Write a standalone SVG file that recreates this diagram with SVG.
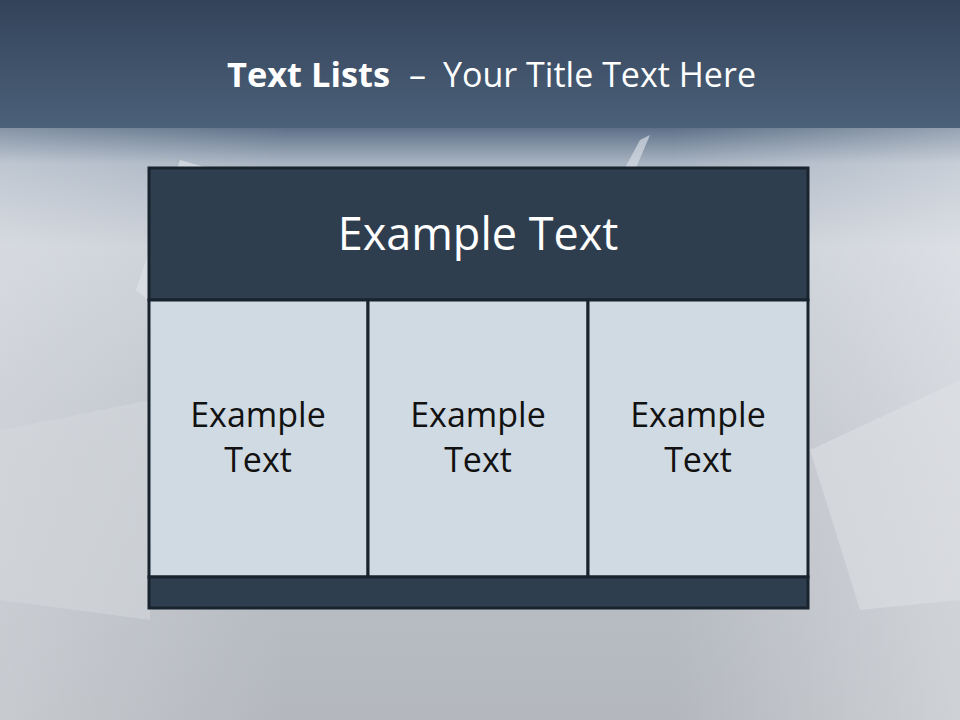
<svg xmlns="http://www.w3.org/2000/svg" width="960" height="720" viewBox="0 0 960 720">
<defs>
<linearGradient id="hdr" x1="0" y1="0" x2="0" y2="1">
<stop offset="0" stop-color="#33445a"/>
<stop offset="1" stop-color="#4b6079"/>
</linearGradient>
<linearGradient id="bg" x1="0" y1="0" x2="0" y2="1">
<stop offset="0" stop-color="#5e7189"/>
<stop offset="0.06" stop-color="#a9b4c2"/>
<stop offset="0.2" stop-color="#c9ced6"/>
<stop offset="0.55" stop-color="#bcc1c8"/>
<stop offset="1" stop-color="#b4b8be"/>
</linearGradient>
<linearGradient id="side" x1="0" y1="0" x2="1" y2="0">
<stop offset="0" stop-color="#ffffff" stop-opacity="0.25"/>
<stop offset="0.3" stop-color="#ffffff" stop-opacity="0"/>
<stop offset="0.7" stop-color="#ffffff" stop-opacity="0"/>
<stop offset="1" stop-color="#ffffff" stop-opacity="0.35"/>
</linearGradient>
<style>
.t{font-family:"Open Sans","Liberation Sans",sans-serif;fill:#ffffff}
.c{font-family:"Open Sans","Liberation Sans",sans-serif;fill:#111111;font-size:34px;text-anchor:middle}
.cell{fill:#d0dae3;stroke:#19232e;stroke-width:3}
.dark{fill:#2f3e4f;stroke:#19232e;stroke-width:3}
</style>
</defs>
<rect x="0" y="128" width="960" height="592" fill="url(#bg)"/>
<rect x="0" y="128" width="960" height="592" fill="url(#side)"/>
<polygon points="0,430 150,400 150,620 0,600" fill="#d6d9de" opacity="0.5"/>
<polygon points="810,450 960,380 960,600 860,610" fill="#dfe2e6" opacity="0.5"/>
<polygon points="180,160 215,170 148,300 136,290" fill="#dde1e7" opacity="0.7"/>
<polygon points="625,168 640,140 650,135 636,168" fill="#d6dce4" opacity="0.7"/>
<rect x="0" y="0" width="960" height="128" fill="url(#hdr)"/>
<text class="t" x="227" y="87" font-size="34.5" font-weight="bold" textLength="163" lengthAdjust="spacingAndGlyphs">Text Lists</text>
<text class="t" x="409" y="87" font-size="34">–</text>
<text class="t" x="443" y="87" font-size="34" textLength="313" lengthAdjust="spacingAndGlyphs">Your Title Text Here</text>
<g id="table">
<g id="header"><rect class="dark" x="149" y="168" width="659" height="132"/><text class="t" x="478" y="250" text-anchor="middle" font-size="45">Example Text</text></g>
<g id="cell1"><rect class="cell" x="149" y="300" width="219" height="277"/><text class="c" x="258" y="427">Example</text><text class="c" x="258" y="472">Text</text></g>
<g id="cell2"><rect class="cell" x="368" y="300" width="220" height="277"/><text class="c" x="478" y="427">Example</text><text class="c" x="478" y="472">Text</text></g>
<g id="cell3"><rect class="cell" x="588" y="300" width="220" height="277"/><text class="c" x="698" y="427">Example</text><text class="c" x="698" y="472">Text</text></g>
<g id="footer"><rect class="dark" x="149" y="577" width="659" height="31"/></g>
</g>
</svg>
